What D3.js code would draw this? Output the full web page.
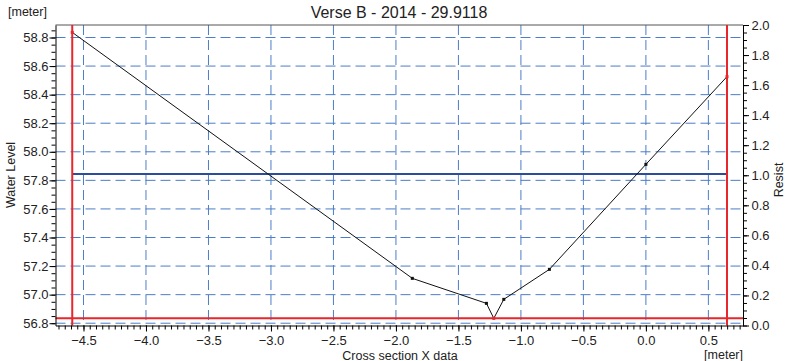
<!DOCTYPE html>
<html>
<head>
<meta charset="utf-8">
<script src="https://cdn.jsdelivr.net/npm/d3@7"></script>
<style>
  body { margin: 0; background: #fff; }
  svg text { font-family: "Liberation Sans", Arial, sans-serif; fill: #222; }
</style>
</head>
<body>
<svg id="chart" width="786" height="361"></svg>
<script>
// Cross-section profile: station along the section [m] and bed level [m]
const stationX = [-4.59, -1.869, -1.276, -1.217, -1.137, -0.772, 0.0, 0.649];
const bedLevel = [58.836, 57.114, 56.939, 56.834, 56.967, 57.177, 57.912, 58.526];
const waterLevel = [57.844];

// Axis extents
const xDomain = [-4.724, 0.777];
const levelDomain = [56.784, 58.8875];
const resistDomain = [0, 2];

// Tick values
const xTicks = [-4.5, -4.0, -3.5, -3.0, -2.5, -2.0, -1.5, -1.0, -0.5, 0.0, 0.5];
const levelTicks = [56.8, 57.0, 57.2, 57.4, 57.6, 57.8, 58.0, 58.2, 58.4, 58.6, 58.8];
const resistTicks = [0.0, 0.2, 0.4, 0.6, 0.8, 1.0, 1.2, 1.4, 1.6, 1.8, 2.0];

const titleText = "Verse B - 2014 - 29.9118";

const svg = d3.select("#chart");
const plot = { left: 55.5, right: 743, top: 25, bottom: 325.5 };

const x = d3.scaleLinear().domain(xDomain).range([plot.left, plot.right]);
const yL = d3.scaleLinear().domain(levelDomain).range([plot.bottom, plot.top]);
const yR = d3.scaleLinear().domain(resistDomain).range([plot.bottom, plot.top]);

const minorTicks = (domain, step) => {
  const out = [];
  const start = Math.ceil(domain[0] / step - 1e-9);
  const end = Math.floor(domain[1] / step + 1e-9);
  for (let i = start; i <= end; i++) out.push(+(i * step).toFixed(4));
  return out;
};

const gridColor = "#4c7dc6";

// Grid lines
const grid = svg.append("g");
grid.selectAll("line.v").data(xTicks).join("line")
  .attr("x1", d => x(d)).attr("x2", d => x(d))
  .attr("y1", plot.top).attr("y2", plot.bottom)
  .attr("stroke", gridColor).attr("stroke-width", 1)
  .attr("stroke-dasharray", "10,5");
grid.selectAll("line.h").data(levelTicks).join("line")
  .attr("x1", plot.left).attr("x2", plot.right)
  .attr("y1", d => yL(d)).attr("y2", d => yL(d))
  .attr("stroke", gridColor).attr("stroke-width", 1)
  .attr("stroke-dasharray", "10,5");

// Top frame line
svg.append("line")
  .attr("x1", plot.left).attr("x2", plot.right)
  .attr("y1", plot.top).attr("y2", plot.top)
  .attr("stroke", "#555").attr("stroke-width", 1);

// Water level
svg.append("line")
  .attr("x1", x(stationX[0])).attr("x2", x(stationX[stationX.length - 1]))
  .attr("y1", yL(waterLevel[0])).attr("y2", yL(waterLevel[0]))
  .attr("stroke", "#2d4c9c").attr("stroke-width", 2);

// Section limits and lowest bed level
const red = "#e8262b";
const minLevel = d3.min(bedLevel);
svg.append("line")
  .attr("x1", plot.left).attr("x2", plot.right)
  .attr("y1", yL(minLevel)).attr("y2", yL(minLevel))
  .attr("stroke", red).attr("stroke-width", 2);
[stationX[0], stationX[stationX.length - 1]].forEach(v => {
  svg.append("line")
    .attr("x1", x(v)).attr("x2", x(v))
    .attr("y1", plot.top).attr("y2", plot.bottom)
    .attr("stroke", red).attr("stroke-width", 2);
});

// Profile
const pts = stationX.map((v, i) => [v, bedLevel[i]]);
svg.append("path")
  .datum(pts)
  .attr("d", d3.line().x(d => x(d[0])).y(d => yL(d[1])))
  .attr("fill", "none").attr("stroke", "#111").attr("stroke-width", 1);
const minIdx = bedLevel.indexOf(minLevel);
svg.selectAll("rect.pt").data(pts).join("rect")
  .attr("x", d => x(d[0]) - 1.5).attr("y", d => yL(d[1]) - 1.5)
  .attr("width", 3).attr("height", 3)
  .attr("fill", (d, i) => (i === 0 || i === pts.length - 1 || i === minIdx) ? red : "#111");

// Axes
const fontSize = "13px";
const styleAxis = g => {
  g.select(".domain").attr("stroke", "#000");
  g.selectAll(".tick line").attr("stroke", "#000");
  g.selectAll("text").style("font-size", fontSize).attr("fill", "#222");
};

// Bottom axis
svg.append("g").attr("transform", `translate(0,${plot.bottom})`)
  .call(d3.axisBottom(x).tickValues(minorTicks(xDomain, 0.05)).tickSize(4).tickFormat("").tickSizeOuter(0))
  .call(styleAxis);
svg.append("g").attr("transform", `translate(0,${plot.bottom})`)
  .call(d3.axisBottom(x).tickValues(xTicks).tickSize(6).tickPadding(4).tickSizeOuter(0)
    .tickFormat(d3.format(".1f")))
  .call(styleAxis)
  .call(g => g.select(".domain").remove());

// Left axis
svg.append("g").attr("transform", `translate(${plot.left},0)`)
  .call(d3.axisLeft(yL).tickValues(minorTicks(levelDomain, 0.05)).tickSize(4).tickFormat("").tickSizeOuter(0))
  .call(styleAxis);
svg.append("g").attr("transform", `translate(${plot.left},0)`)
  .call(d3.axisLeft(yL).tickValues(levelTicks).tickSize(6).tickPadding(1).tickSizeOuter(0)
    .tickFormat(d3.format(".1f")))
  .call(styleAxis)
  .call(g => g.select(".domain").remove());

// Right axis
svg.append("g").attr("transform", `translate(${plot.right},0)`)
  .call(d3.axisRight(yR).tickValues(minorTicks(resistDomain, 0.05)).tickSize(4).tickFormat("").tickSizeOuter(0))
  .call(styleAxis);
svg.append("g").attr("transform", `translate(${plot.right},0)`)
  .call(d3.axisRight(yR).tickValues(resistTicks).tickSize(6).tickPadding(2.5).tickSizeOuter(0)
    .tickFormat(d3.format(".1f")))
  .call(styleAxis)
  .call(g => g.select(".domain").remove());

// Titles and axis labels
svg.append("text").attr("x", 399).attr("y", 17.5).attr("text-anchor", "middle")
  .style("font-size", "16px").text(titleText);
svg.append("text").attr("x", 8).attr("y", 16).style("font-size", "12.5px").text("[meter]");
svg.append("text").attr("x", 400).attr("y", 359.5).attr("text-anchor", "middle")
  .style("font-size", "12.5px").text("Cross section X data");
svg.append("text").attr("x", 743).attr("y", 359).attr("text-anchor", "end")
  .style("font-size", "12.5px").text("[meter]");
svg.append("text").attr("transform", `translate(14.5,175) rotate(-90)`).attr("text-anchor", "middle")
  .style("font-size", "12.5px").text("Water Level");
svg.append("text").attr("transform", `translate(782.5,180) rotate(-90)`).attr("text-anchor", "middle")
  .style("font-size", "12.5px").text("Resist");
</script>
</body>
</html>
